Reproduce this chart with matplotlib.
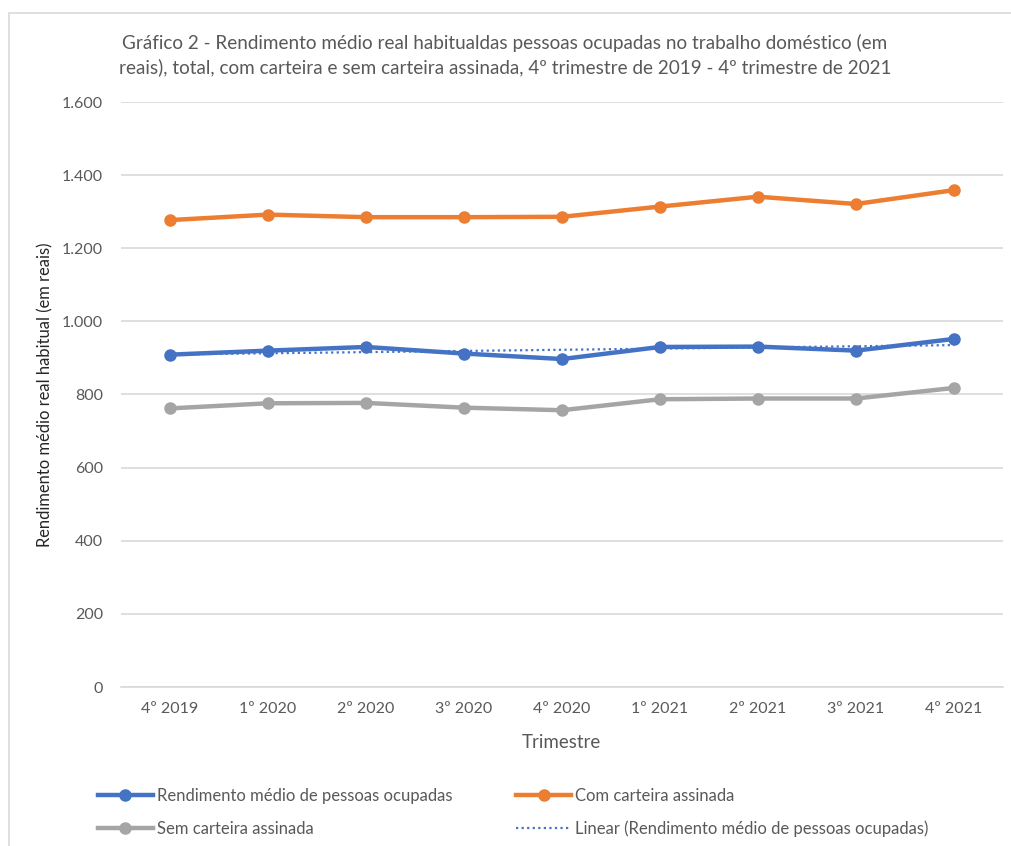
import matplotlib
matplotlib.use("Agg")
import matplotlib.pyplot as plt
import numpy as np
from matplotlib.ticker import FuncFormatter, MultipleLocator
from matplotlib.patches import Rectangle
from matplotlib.lines import Line2D

plt.rcParams['font.family'] = ['Lato', 'DejaVu Sans']

categories = ["4º 2019", "1º 2020", "2º 2020", "3º 2020", "4º 2020",
              "1º 2021", "2º 2021", "3º 2021", "4º 2021"]
total = [909, 920, 930, 912, 897, 930, 931, 920, 952]
com_carteira = [1277, 1292, 1285, 1285, 1286, 1314, 1341, 1321, 1359]
sem_carteira = [762, 776, 777, 764, 757, 787, 789, 789, 818]

title = ("Gráfico 2 - Rendimento médio real habitualdas pessoas ocupadas no trabalho doméstico (em\n"
         "reais), total, com carteira e sem carteira assinada, 4º trimestre de 2019 - 4º trimestre de 2021")
y_label = "Rendimento médio real habitual (em reais)"
x_label = "Trimestre"
names = ["Rendimento médio de pessoas ocupadas", "Com carteira assinada",
         "Sem carteira assinada", "Linear (Rendimento médio de pessoas ocupadas)"]

blue = "#4472C4"
orange = "#ED7D31"
gray = "#A5A5A5"
text_c = "#595959"

W, H = 1012, 846
fig = plt.figure(figsize=(W / 100, H / 100), dpi=100)
fig.patch.set_facecolor("white")

# chart border
fig.add_artist(Rectangle((9 / W, -0.01), 1.02, 1 - 13 / H + 0.01, transform=fig.transFigure,
                         fill=False, edgecolor="#D9D9D9", linewidth=1.2))

left, right, top, bottom = 121, 1003, 102, 687
ax = fig.add_axes([left / W, 1 - bottom / H, (right - left) / W, (bottom - top) / H])

x = np.arange(len(categories))
lw = 3.2
ms = 8
ax.plot(x, total, color=blue, lw=lw, marker="o", ms=ms, zorder=4, solid_capstyle="round")
ax.plot(x, com_carteira, color=orange, lw=lw, marker="o", ms=ms, zorder=4, solid_capstyle="round")
ax.plot(x, sem_carteira, color=gray, lw=lw, marker="o", ms=ms, zorder=4, solid_capstyle="round")

coef = np.polyfit(x, total, 1)
ax.plot(x, np.polyval(coef, x), color=blue, lw=1.6, ls=(0, (1, 1.5)), zorder=5)

ax.set_xlim(-0.5, len(categories) - 0.5)
ax.set_ylim(0, 1600)
ax.yaxis.set_major_locator(MultipleLocator(200))
ax.yaxis.set_major_formatter(FuncFormatter(lambda v, p: f"{int(v):,}".replace(",", ".")))
ax.set_xticks(x)
ax.set_xticklabels(categories)
ax.grid(axis="y", color="#D9D9D9", lw=1.2)
ax.set_axisbelow(True)
for s in ["top", "right", "left"]:
    ax.spines[s].set_visible(False)
ax.spines["bottom"].set_color("#D9D9D9")
ax.spines["bottom"].set_linewidth(1.2)
ax.tick_params(axis="both", length=0, labelsize=11.5, colors=text_c)
ax.tick_params(axis="y", pad=13)
ax.tick_params(axis="x", pad=11)

fig.text(505 / W, 1 - 55 / H, title, ha="center", va="center", fontsize=13.6,
         color=text_c, linespacing=1.4)
fig.text(45 / W, 1 - 395 / H, y_label, rotation=90, ha="center", va="center",
         fontsize=11.9, color="#262626")
fig.text(561 / W, 1 - 742 / H, x_label, ha="center", va="center", fontsize=13.5, color=text_c)

h_total = Line2D([], [], color=blue, lw=lw, marker="o", ms=ms)
h_com = Line2D([], [], color=orange, lw=lw, marker="o", ms=ms)
h_sem = Line2D([], [], color=gray, lw=lw, marker="o", ms=ms)
h_lin = Line2D([], [], color=blue, lw=1.6, ls=(0, (1, 1.5)))
# matplotlib fills legend column-wise: order so rows read as in reference
handles = [h_total, h_sem, h_com, h_lin]
labels = [names[0], names[2], names[1], names[3]]
fig.legend(handles, labels, loc="upper left", bbox_to_anchor=(83 / W, 1 - 773 / H),
           ncol=2, frameon=False, fontsize=12, labelcolor=text_c,
           handlelength=3.3, handletextpad=0.25, columnspacing=3.8, labelspacing=1.0)

fig.savefig("out.png", dpi=100, facecolor="white")
